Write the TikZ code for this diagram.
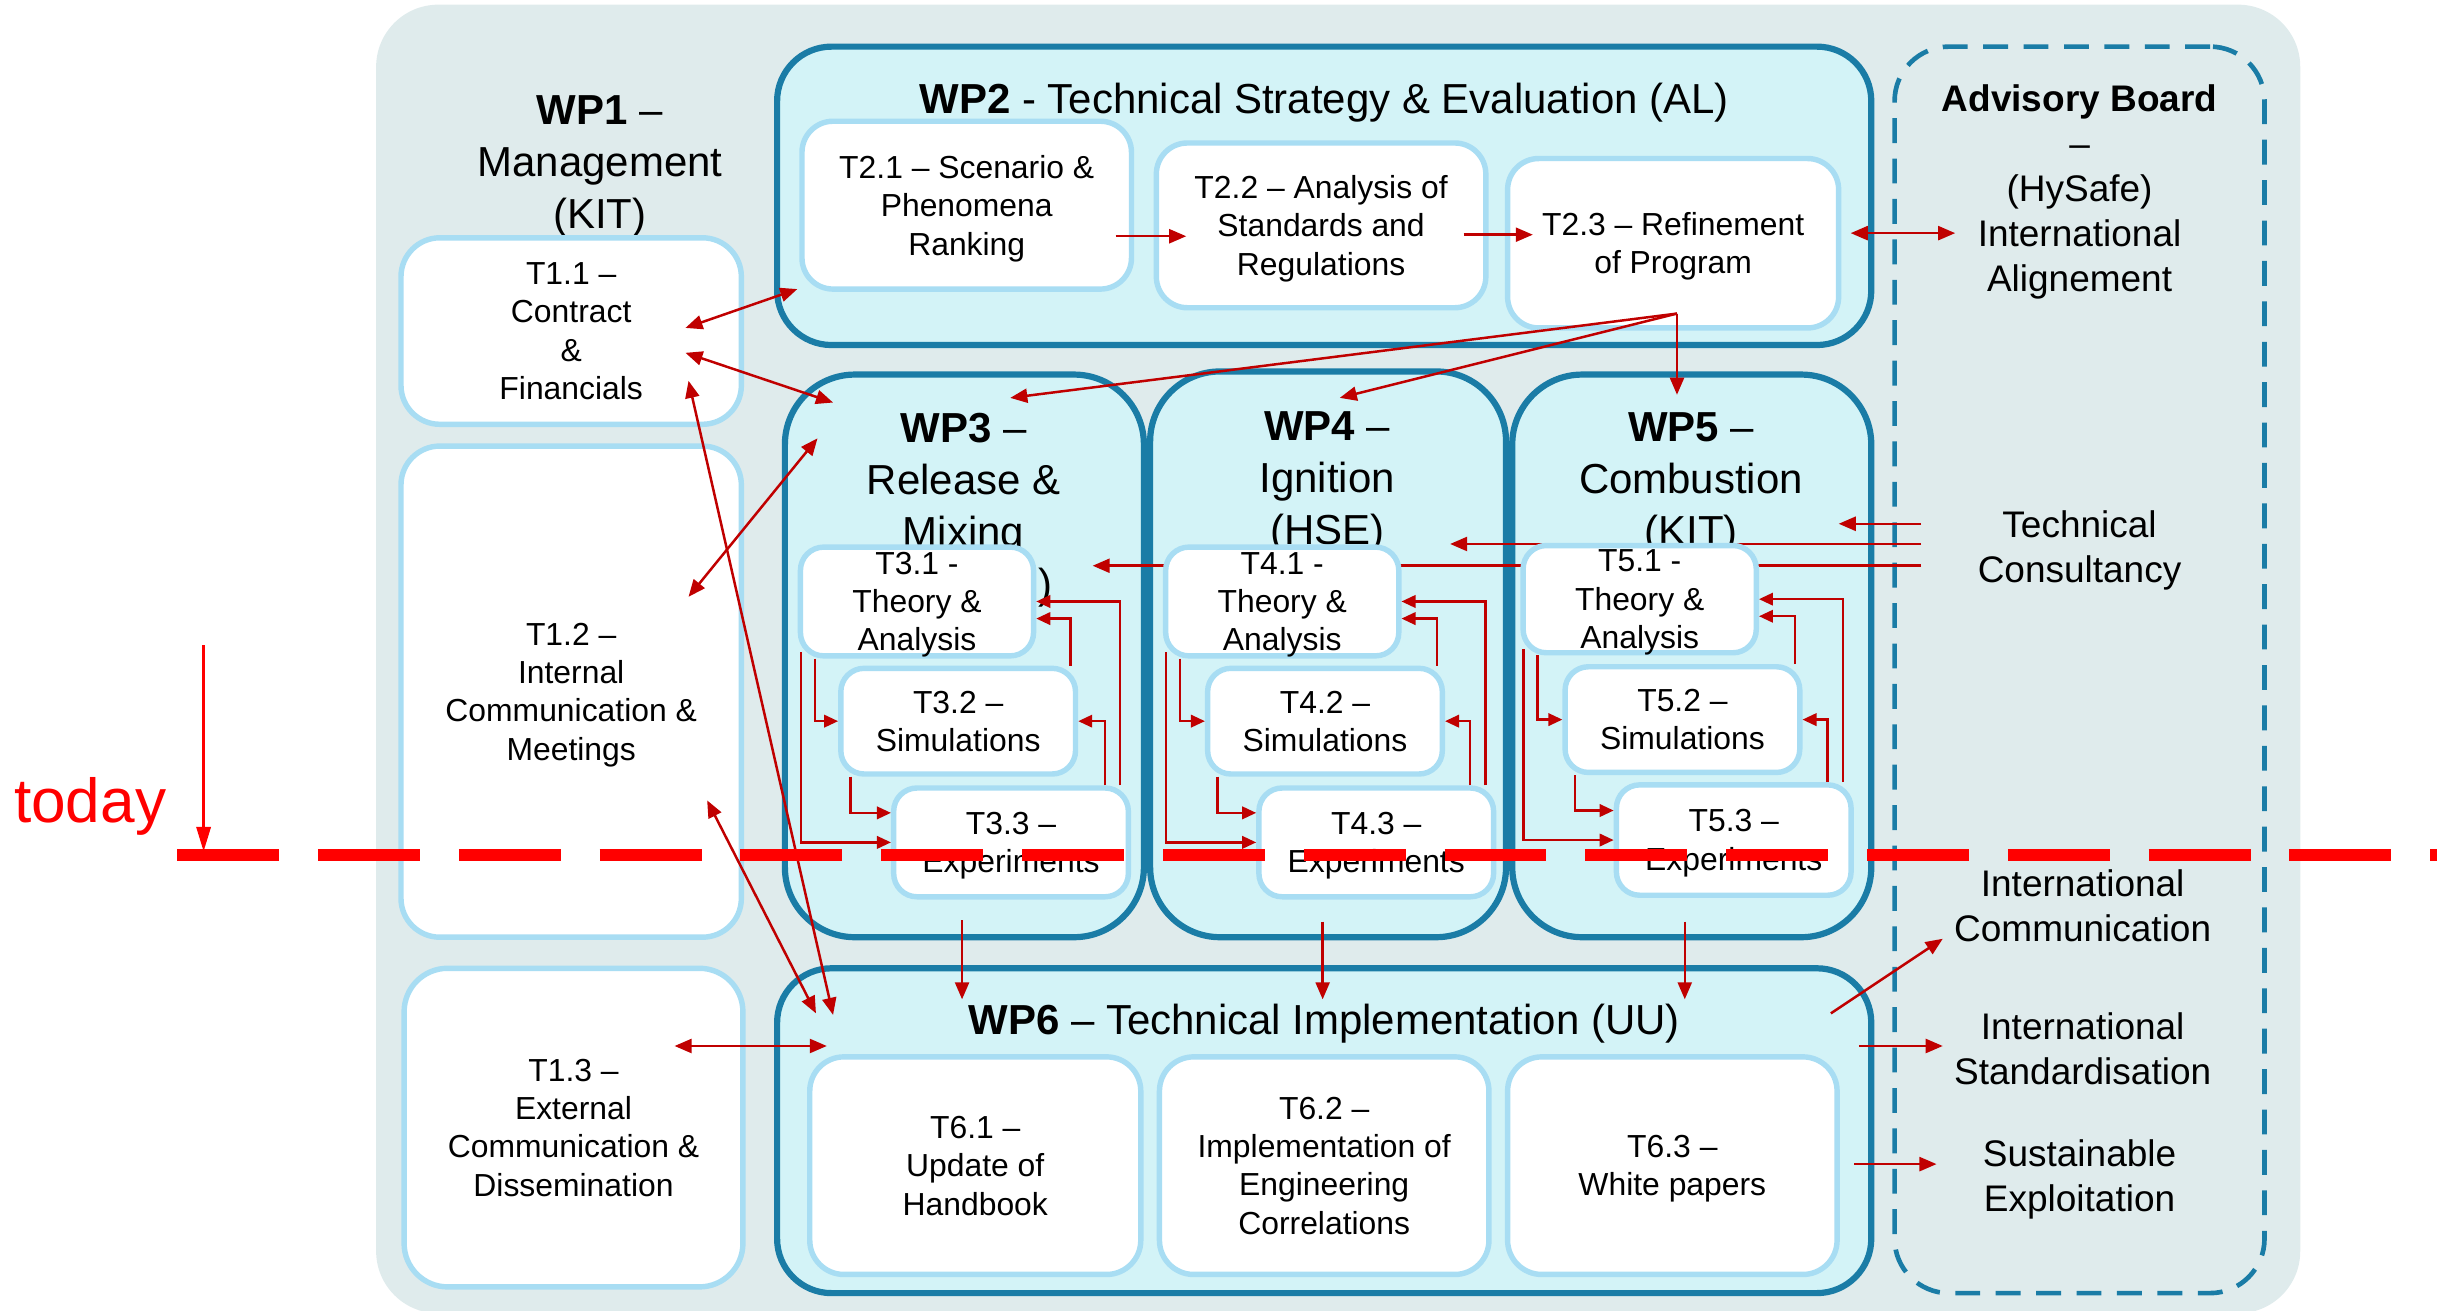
\documentclass[tikz,border=0pt]{standalone}
\usepackage{fontspec}
\setmainfont{Liberation Sans}
\usetikzlibrary{arrows.meta,calc}
\definecolor{bgc}{HTML}{DFEBEC}
\definecolor{wpfill}{HTML}{D3F3F7}
\definecolor{wpline}{HTML}{1A7CA6}
\definecolor{tskline}{HTML}{A8DDF3}
\definecolor{arrc}{HTML}{C00000}
\definecolor{todayc}{HTML}{FF0000}
\newcommand\fBody{\fontsize{20.5}{24.7}\selectfont}
\newcommand\fTitle{\fontsize{27}{33.5}\selectfont}
\newcommand\fAdv{\fontsize{23.8}{29}\selectfont}
\begin{document}
\begin{tikzpicture}[x=1pt,y=-1pt,
 wpbox/.style={draw=wpline,line width=4pt,fill=wpfill,inner sep=0pt},
 tbox/.style={draw=tskline,line width=3.5pt,fill=white,inner sep=0pt,align=center,font=\fBody,text depth=0pt},
 ttl/.style={align=center,font=\fTitle,inner sep=0pt,text depth=0pt},
 adv/.style={align=center,font=\fAdv,inner sep=0pt,text depth=0pt},
 ra/.style={draw=arrc,line width=1.6pt,-{Triangle[length=11pt,width=9pt]}},
 rda/.style={draw=arrc,line width=1.6pt,{Triangle[length=11pt,width=9pt]}-{Triangle[length=11pt,width=9pt]}},
 elb/.style={draw=arrc,line width=1.5pt,-{Triangle[length=9pt,width=8pt]}},
]
\useasboundingbox (0,0) rectangle (1568,843);
\clip (0,0) rectangle (1568,843);
\path[fill=bgc,rounded corners=40pt] (242,3) rectangle (1480,845);

% WP1
\node[ttl] (wp1t) at (386,104.5) {\textbf{WP1} –\\Management\\(KIT)};
\node[tbox,rounded corners=25pt,minimum width=219pt,minimum height=120pt] (T11) at (367.5,213) {T1.1 –\\Contract\\\&\\Financials};
\node[tbox,rounded corners=25pt,minimum width=219pt,minimum height=316pt] (T12) at (367.5,445) {T1.2 –\\Internal\\Communication \&\\Meetings};
\node[tbox,rounded corners=28pt,minimum width=218pt,minimum height=205pt] (T13) at (369,725.5) {T1.3 –\\External\\Communication \&\\Dissemination};

% WP containers
\node[wpbox,rounded corners=35pt,minimum width=704pt,minimum height=192pt] (WP2) at (852,126) {};
\node[wpbox,rounded corners=45pt,minimum width=231pt,minimum height=362pt] (WP3) at (620.5,422) {};
\node[wpbox,rounded corners=45pt,minimum width=229pt,minimum height=364pt] (WP4) at (854.5,421) {};
\node[wpbox,rounded corners=45pt,minimum width=231pt,minimum height=362pt] (WP5) at (1088.5,422) {};
\node[wpbox,rounded corners=35pt,minimum width=704pt,minimum height=209pt] (WP6) at (852,727.5) {};
\node[draw=wpline,line width=3pt,dash pattern=on 16pt off 10pt,rounded corners=35pt,minimum width=238pt,minimum height=802pt,inner sep=0pt] (AB) at (1338,431) {};

% titles
\node[ttl] (wp2t) at (852,63) {\textbf{WP2} - Technical Strategy \& Evaluation (AL)};
\node[ttl] (wp3t) at (620,325.5) {\textbf{WP3} –\\Release \&\\Mixing\\(NCSRD)};
\node[ttl] (wp4t) at (854,307.5) {\textbf{WP4} –\\Ignition\\(HSE)};
\node[ttl] (wp5t) at (1088,308.5) {\textbf{WP5} –\\Combustion\\(KIT)};
\node[ttl] (wp6t) at (852,656) {\textbf{WP6} – Technical Implementation (UU)};

% advisory board texts
\node[adv] (abt) at (1338,121) {\textbf{Advisory Board}\\–\\(HySafe)\\International\\Alignement};
\node[adv] (tc) at (1338,351.5) {Technical\\Consultancy};
\node[adv] (ic) at (1340,582.5) {International\\Communication};
\node[adv] (is) at (1340,674.5) {International\\Standardisation};
\node[adv] (se) at (1338,756.5) {Sustainable\\Exploitation};

% technical consultancy lines (behind task boxes)
\coordinate (tcA) at (1236,337); \coordinate (tcAe) at (1183,337);
\coordinate (tcB) at (1236,350); \coordinate (tcBe) at (933,350);
\coordinate (tcC) at (1236,364); \coordinate (tcCe) at (703,364);
\draw[ra] (tcA) -- (tcAe);
\draw[ra] (tcB) -- (tcBe);
\draw[ra] (tcC) -- (tcCe);

% task boxes
\node[tbox,rounded corners=20pt,minimum width=212pt,minimum height=108pt] (T21) at (622,132) {T2.1 – Scenario \&\\Phenomena\\Ranking};
\node[tbox,rounded corners=20pt,minimum width=212pt,minimum height=106pt] (T22) at (850,145) {T2.2 – Analysis of\\Standards and\\Regulations};
\node[tbox,rounded corners=20pt,minimum width=213pt,minimum height=109pt] (T23) at (1076.5,156.5) {T2.3 – Refinement\\of Program};

\node[tbox,rounded corners=15pt,minimum width=150pt,minimum height=70pt] (T31) at (590,387) {T3.1 -\\Theory \&\\Analysis};
\node[tbox,rounded corners=15pt,minimum width=151pt,minimum height=68pt] (T32) at (616.5,464) {T3.2 –\\Simulations};
\node[tbox,rounded corners=15pt,minimum width=151pt,minimum height=70pt] (T33) at (650.5,542) {T3.3 –\\Experiments};

\node[tbox,rounded corners=15pt,minimum width=150pt,minimum height=70pt] (T41) at (825,387) {T4.1 -\\Theory \&\\Analysis};
\node[tbox,rounded corners=15pt,minimum width=151pt,minimum height=68pt] (T42) at (852.5,464) {T4.2 –\\Simulations};
\node[tbox,rounded corners=15pt,minimum width=151pt,minimum height=70pt] (T43) at (885.5,542) {T4.3 –\\Experiments};

\node[tbox,rounded corners=15pt,minimum width=150pt,minimum height=69pt] (T51) at (1055,385.5) {T5.1 -\\Theory \&\\Analysis};
\node[tbox,rounded corners=15pt,minimum width=151pt,minimum height=68pt] (T52) at (1082.5,463) {T5.2 –\\Simulations};
\node[tbox,rounded corners=15pt,minimum width=151pt,minimum height=71pt] (T53) at (1115.5,540.5) {T5.3 –\\Experiments};

\node[tbox,rounded corners=22pt,minimum width=213pt,minimum height=140pt] (T61) at (627.5,750) {T6.1 –\\Update of\\Handbook};
\node[tbox,rounded corners=22pt,minimum width=212pt,minimum height=140pt] (T62) at (852,750) {T6.2 –\\Implementation of\\Engineering\\Correlations};
\node[tbox,rounded corners=22pt,minimum width=212pt,minimum height=140pt] (T63) at (1076,750) {T6.3 –\\White papers};

% arrows inside WP3-WP5
\foreach \n in {3,4,5}{
 \draw[elb] ($(T\n1.south west)+(11,0)$) |- (T\n2.west);
 \draw[elb] ($(T\n1.south west)+(2,-4)$) |- (T\n3.west);
 \draw[elb] ($(T\n2.south west)+(8,0)$) |- ($(T\n3.west)+(0,-19)$);
 \draw[elb] ($(T\n3.north east)+(-7,0)$) |- (T\n1.east);
 \draw[elb] ($(T\n2.north east)+(-5,0)$) |- ($(T\n1.east)+(0,11)$);
 \draw[elb] ($(T\n3.north east)+(-17,0)$) |- (T\n2.east);
}

% WP2 arrows
\draw[ra] ($(T21.east)+(-12,20)$) -- ($(T22.west)+(21,7)$);
\draw[ra] ($(T22.east)+(-16,6)$) -- ($(T23.west)+(18,-5.5)$);
\coordinate (abA) at (1258,150);
\draw[rda] ($(T23.east)+(6,-6.5)$) -- (abA);
\coordinate (fan) at ($(T23.south)+(2.5,-11)$);
\draw[ra] (fan) -- ($(WP3.north)+(29.5,17)$);
\draw[ra] (fan) -- ($(WP4.north)+(7.5,19)$);
\draw[ra] (fan) -- ($(WP5.north)+(-9.5,15)$);

% WP3-5 to WP6
\draw[ra] ($(WP3.south)+(-1.5,-13)$) -- ($(WP6.north)+(-233,22)$);
\draw[ra] ($(WP4.south)+(-3.5,-12)$) -- ($(WP6.north)+(-1,22)$);
\draw[ra] ($(WP5.south)+(-4.5,-12)$) -- ($(WP6.north)+(232,22)$);

% WP1 links
\coordinate (a1) at (441,211); \coordinate (a2) at (513,186);
\coordinate (b1) at (441,227); \coordinate (b2) at (536,259);
\coordinate (c1) at (443,384); \coordinate (c2) at (526,282);
\coordinate (d1) at (443,245); \coordinate (d2) at (536,653);
\coordinate (e1) at (455,515); \coordinate (e2) at (525,652);
\coordinate (f1) at (434,673); \coordinate (f2) at (532,673);
\draw[rda] (a1) -- (a2);
\draw[rda] (b1) -- (b2);
\draw[rda] (c1) -- (c2);
\draw[rda] (d1) -- (d2);
\draw[rda] (e1) -- (e2);
\draw[rda] (f1) -- (f2);

% WP6 to advisory board
\coordinate (g1) at (1178,652); \coordinate (g2) at (1250,604);
\coordinate (h1) at (1196,673); \coordinate (h2) at (1250,673);
\coordinate (k1) at (1193,749); \coordinate (k2) at (1246,749);
\draw[ra] (g1) -- (g2);
\draw[ra] (h1) -- (h2);
\draw[ra] (k1) -- (k2);

% today
\node[font=\fontsize{40}{48}\selectfont,text=todayc,inner sep=0pt,text depth=0pt] (todaytxt) at (58,515) {today};
\coordinate (ttop) at (131,415); \coordinate (ttip) at (131,548);
\draw[draw=todayc,line width=2.2pt,-{Triangle[length=16pt,width=9pt]}] (ttop) -- (ttip);
\coordinate (tl1) at (114,550); \coordinate (tl2) at (1575,550);
\draw[draw=todayc,line width=7.5pt,dash pattern=on 65.6pt off 25pt] (tl1) -- (tl2);
\end{tikzpicture}
\end{document}
